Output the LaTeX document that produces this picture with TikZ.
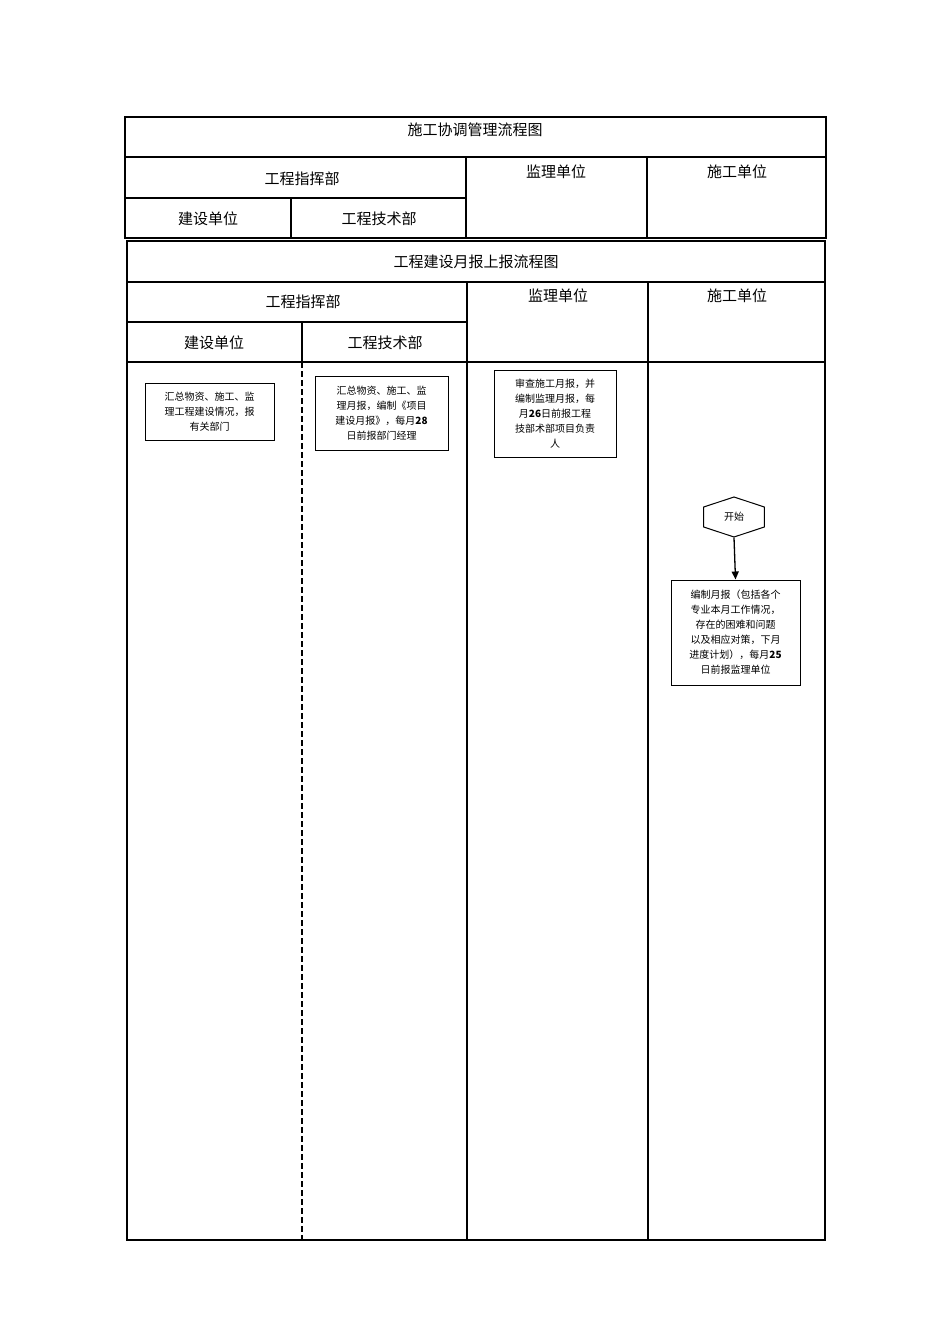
\documentclass[tikz,border=0pt]{standalone}
\usepackage{fontspec}
\setmainfont{Liberation Serif}
\newfontfamily\cjk{Noto Sans CJK SC}
\usetikzlibrary{shapes.geometric,arrows.meta}
\begin{document}
\begin{tikzpicture}[x=1pt,y=-1pt,
  hd/.style={font=\cjk\fontsize{15}{18}\selectfont},
  bx/.style={draw,line width=1pt,font=\cjk\fontsize{10}{15}\selectfont,align=center,inner sep=2pt},
  ln/.style={line width=1.3pt}]
\useasboundingbox (0,0) rectangle (950,1344);
% top table
\draw[ln] (125,117) rectangle (826,238);
\draw[ln] (125,157) -- (826,157);
\draw[ln] (125,198) -- (466,198);
\draw[ln] (466,157) -- (466,238);
\draw[ln] (647,157) -- (647,238);
\draw[ln] (291,198) -- (291,238);
\node[hd] (t1) at (475,130) {施工协调管理流程图};
\node[hd] (t2) at (302,179) {工程指挥部};
\node[hd] (t3) at (556,172) {监理单位};
\node[hd] (t4) at (737,172) {施工单位};
\node[hd] (t5) at (208,219) {建设单位};
\node[hd] (t6) at (379,219) {工程技术部};
% second table
\draw[ln] (127,241) rectangle (825,1240);
\draw[ln] (127,282) -- (825,282);
\draw[ln] (127,322) -- (467,322);
\draw[ln] (127,362) -- (825,362);
\draw[ln] (467,282) -- (467,1240);
\draw[ln] (648,282) -- (648,1240);
\draw[ln] (302,322) -- (302,362);
\draw[ln,dash pattern=on 6pt off 3pt] (302,362) -- (302,1240);
\node[hd] (s1) at (476,262) {工程建设月报上报流程图};
\node[hd] (s2) at (303,302) {工程指挥部};
\node[hd] (s3) at (558,296) {监理单位};
\node[hd] (s4) at (737,296) {施工单位};
\node[hd] (s5) at (214,343) {建设单位};
\node[hd] (s6) at (385,343) {工程技术部};
% boxes
\node[bx,minimum width=129pt,minimum height=57pt] (b1) at (209.5,411.5) {汇总物资、施工、监\\理工程建设情况，报\\有关部门};
\node[bx,minimum width=133pt,minimum height=74pt] (b2) at (381.5,413) {汇总物资、施工、监\\理月报，编制《项目\\建设月报》，每月\textbf{28}\\日前报部门经理};
\node[bx,minimum width=122pt,minimum height=87pt] (b3) at (555,413.5) {审查施工月报，并\\编制监理月报，每\\月\textbf{26}日前报工程\\技部术部项目负责\\人};
\node[draw,line width=1pt,regular polygon,regular polygon sides=6,shape border rotate=30,minimum width=40pt,xscale=1.75,inner sep=0pt] (hex) at (734,517) {};
\node[font=\cjk\fontsize{10}{12}\selectfont] (st) at (734,517) {开始};
\node[bx,minimum width=129pt,minimum height=105pt] (b4) at (735.5,632.5) {编制月报（包括各个\\专业本月工作情况，\\存在的困难和问题\\以及相应对策，下月\\进度计划），每月\textbf{25}\\日前报监理单位};
\draw[line width=1.3pt,-{Triangle[length=8pt,width=7pt]}] (hex.south) -- (b4.north);
\end{tikzpicture}
\end{document}
